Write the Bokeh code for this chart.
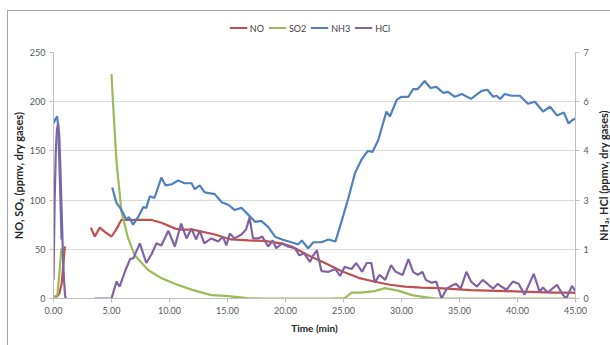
import math
from bokeh.plotting import figure
from bokeh.layouts import column, row
from bokeh.models import Range1d, LinearAxis, FixedTicker, PrintfTickFormatter, Legend, LegendItem
from bokeh.embed import file_html
from bokeh.resources import INLINE

nan = float("nan")

# ---- data (time in min; NO/SO2 on left axis, NH3/HCl on right axis, ppmv dry gases) ----
no_time = [0, 0.3, 0.5, 0.7, 0.85, 0.98, nan,
           3.22, 3.56, 3.99, 4.5, 5.0, 5.4, 5.86, 6.5, 7.5, 8.4, 9.3, 10.5, 11.0, 12.0, 13.9, 15.3,
           16.8, 18.2, 19.6, 20.5, 21.95, 23.4, 24.8, 26.3, 27.7, 29.0, 30.3, 31.7, 33.2, 34.6,
           36.0, 37.5, 38.9, 40.3, 41.8, 43.2, 44.65, 45.0]
no_ppm = [2, 2, 5, 15, 35, 53, nan,
          72, 63, 72, 67, 63, 70, 80, 80, 80, 80, 77, 71, 70, 70, 65, 60,
          59, 58.5, 56, 53, 44, 36, 28, 21, 17, 14, 12, 11, 10.5, 9.5,
          8.5, 8, 7.5, 7, 6.5, 6, 6, 5.5]

so2_time = [0, 0.2, 0.35, 0.5, 0.69, nan,
            5.0, 5.2, 5.43, 5.86, 6.44, 7.0, 7.6, 8.16, 9.3, 10.46, 11.9, 12.5, 13.6, 14.8, 15.9,
            16.7, 18, 20, 22, 24, 25.1, 25.7, 26.5, 27.7, 28.56, 29.7, 30.9, 32.0, 33.0, 35, 40, 45]
so2_ppm = [1, 1, 5, 25, 51, nan,
           228, 185, 139, 88, 61, 44, 36, 29, 20.7, 15, 9, 7, 3.4, 2.7, 1.4,
           0.4, 0, 0, 0, 0, 0.5, 6, 6, 7.5, 10.5, 8, 3.4, 1.4, 0, 0, 0, 0]

nh3_time = [0, 0.15, 0.32, 0.4, 0.5, 0.6, 0.69, nan,
            5.06, 5.43, 5.86, 6.29, 6.5, 6.87, 7.3, 7.73, 8.0, 8.3, 8.7, 9.3, 9.65, 10.2, 10.75,
            11.3, 11.9, 12.18, 12.6, 13.04, 13.9, 14.5, 15.1, 15.6, 16.2, 16.8, 17.4, 17.9, 18.5,
            19.1, 19.7, 20.5, 21.1, 21.4, 21.95, 22.4, 23.1, 23.7, 24.3, 24.8, 25.4, 26.0, 26.55,
            27.1, 27.5, 28.0, 28.7, 29.0, 29.6, 30.0, 30.6, 31.0, 31.4, 32.0, 32.5, 33.0, 33.6,
            34.0, 34.6, 35.2, 36.0, 36.9, 37.4, 37.9, 38.2, 38.5, 38.9, 39.5, 40.2, 40.9, 41.5,
            42.2, 42.8, 43.4, 44.0, 44.4, 44.7, 45.0]
nh3_ppm = [4.98, 5.10, 5.18, 4.90, 3.92, 2.80, 1.68, nan,
           3.16, 2.72, 2.52, 2.24, 2.32, 2.10, 2.32, 2.60, 2.58, 2.91, 2.86, 3.44, 3.22, 3.25, 3.36,
           3.28, 3.28, 3.11, 3.22, 3.02, 2.97, 2.74, 2.66, 2.52, 2.58, 2.38, 2.18, 2.21, 2.04,
           1.76, 1.68, 1.60, 1.54, 1.65, 1.43, 1.60, 1.60, 1.68, 1.62, 2.16, 2.83, 3.58, 3.95,
           4.20, 4.17, 4.51, 5.32, 5.18, 5.66, 5.74, 5.74, 5.96, 5.96, 6.19, 5.99, 6.02, 5.85,
           5.88, 5.74, 5.82, 5.68, 5.91, 5.94, 5.74, 5.77, 5.68, 5.82, 5.77, 5.77, 5.54, 5.60,
           5.32, 5.46, 5.21, 5.29, 4.98, 5.07, 5.12]

hcl_time = [0, 0.1, 0.2, 0.3, 0.4, 0.5, 0.6, 0.7, 0.8, 0.9, 1.0, 1.06, nan,
            3.56, 5.0, 5.43, 5.7, 6.15, 6.6, 6.9, 7.44, 8.0, 8.45, 8.88, 9.3, 9.9, 10.46, 11.0,
            11.47, 11.9, 12.3, 12.6, 13.0, 13.6, 14.2, 14.6, 14.9, 15.2, 15.6, 16.2, 16.6, 16.9,
            17.2, 17.6, 18.0, 18.5, 18.9, 19.2, 19.7, 20.2, 20.8, 21.2, 21.6, 22.1, 22.4, 22.7,
            23.1, 23.7, 24.3, 24.7, 25.1, 25.7, 26.1, 26.6, 27.0, 27.4, 27.7, 28.1, 28.6, 29.1,
            29.5, 30.1, 30.6, 31.0, 31.4, 31.8, 32.1, 32.6, 33.0, 33.45, 33.9, 34.3, 34.7, 35.1,
            35.6, 36.0, 36.5, 37.0, 37.4, 37.9, 38.3, 38.6, 39.05, 39.6, 40.1, 40.6, 41.4, 41.9,
            42.2, 42.6, 43.4, 43.9, 44.2, 44.7, 45.0]
hcl_ppm = [0.53, 2.80, 4.20, 4.82, 4.98, 4.62, 3.64, 2.52, 1.40, 0.56, 0.08, 0.00, nan,
           0.00, 0.00, 0.48, 0.34, 0.76, 1.12, 1.15, 1.57, 1.01, 1.26, 1.57, 1.51, 1.93, 1.48, 2.13,
           1.71, 1.99, 1.68, 1.93, 1.57, 1.71, 1.62, 1.76, 1.51, 1.85, 1.71, 1.82, 1.96, 2.30,
           1.71, 1.71, 1.76, 1.48, 1.65, 1.43, 1.57, 1.48, 1.43, 1.23, 1.29, 1.04, 1.23, 1.37,
           0.78, 0.76, 0.84, 0.64, 0.90, 0.84, 1.01, 0.76, 1.01, 1.01, 0.45, 0.67, 0.53, 0.95,
           0.76, 0.67, 1.12, 0.76, 0.67, 0.76, 0.53, 0.45, 0.48, 0.00, 0.28, 0.36, 0.42, 0.28,
           0.76, 0.48, 0.34, 0.53, 0.42, 0.28, 0.42, 0.34, 0.25, 0.48, 0.42, 0.11, 0.70, 0.20,
           0.31, 0.17, 0.39, 0.11, 0.00, 0.36, 0.20]

x_ticks = [0, 5, 10, 15, 20, 25, 30, 35, 40, 45]
left_ticks = [0, 50, 100, 150, 200, 250]
right_tick_values = [0, 1.4, 2.8, 4.2, 5.6, 7]
right_tick_labels = ["0", "1", "3", "4", "6", "7"]

series_names = ["NO", "SO2", "NH3", "HCl"]
series_colors = ["#C0504D", "#9BBB59", "#4F81BD", "#8064A2"]

left_title = "NO, SO\u2082 (ppmv, dry gases)"
right_title = "NH\u2083, HCl (ppmv, dry gases)"
x_title = "Time (min)"

FONT = "Lato"
TICK_COLOR = "#595959"
AXIS_LINE = "#BFBFBF"
LW = 2.2

# ---------------- main chart ----------------
p = figure(width=585, height=302, output_backend="svg", toolbar_location=None,
           x_range=Range1d(0, 45), y_range=Range1d(0, 250),
           min_border_left=45, min_border_right=18, min_border_top=8, min_border_bottom=48,
           background_fill_color="white", border_fill_color="white")
p.outline_line_color = None
p.extra_y_ranges = {"right": Range1d(0, 7)}

p.xgrid.grid_line_color = None
p.ygrid.grid_line_color = "#D9D9D9"
p.ygrid.grid_line_width = 1
p.ygrid.ticker = FixedTicker(ticks=left_ticks)

def style_axis(ax):
    ax.axis_line_color = AXIS_LINE
    ax.major_tick_line_color = AXIS_LINE
    ax.major_tick_out = 4
    ax.major_tick_in = 0
    ax.minor_tick_line_color = None
    ax.major_label_text_font = FONT
    ax.major_label_text_font_size = "9px"
    ax.major_label_text_color = TICK_COLOR
    ax.axis_label_text_font = FONT
    ax.axis_label_text_font_size = "11px"
    ax.axis_label_text_font_style = "bold"
    ax.axis_label_text_color = "#262626"

xa = p.xaxis[0]
style_axis(xa)
xa.ticker = FixedTicker(ticks=x_ticks)
xa.formatter = PrintfTickFormatter(format="%.2f")
xa.axis_label = x_title
xa.major_label_standoff = 4
xa.axis_label_standoff = 5
xa.axis_label_text_font_size = "10px"

ya = p.yaxis[0]
style_axis(ya)
ya.ticker = FixedTicker(ticks=left_ticks)
ya.axis_label = left_title
ya.major_label_standoff = 4
ya.axis_label_standoff = 2

ra = LinearAxis(y_range_name="right", ticker=FixedTicker(ticks=right_tick_values),
                major_label_overrides={v: l for v, l in zip(right_tick_values, right_tick_labels)})
style_axis(ra)
ra.major_label_standoff = 4
p.add_layout(ra, "right")

p.line(no_time, no_ppm, line_color=series_colors[0], line_width=LW)
p.line(so2_time, so2_ppm, line_color=series_colors[1], line_width=LW)
p.line(nh3_time, nh3_ppm, line_color=series_colors[2], line_width=LW, y_range_name="right")
p.line(hcl_time, hcl_ppm, line_color=series_colors[3], line_width=LW, y_range_name="right")

# ---------------- right-hand title strip (reads bottom-to-top like the reference) ----------------
rf = figure(width=18, height=302, output_backend="svg", toolbar_location=None,
            x_range=Range1d(0, 1), y_range=Range1d(0, 1), x_axis_type=None,
            min_border_left=0, min_border_right=0, min_border_top=8, min_border_bottom=48,
            background_fill_color="white", border_fill_color="white")
rf.outline_line_color = None
rf.grid.visible = False
rax = rf.yaxis[0]
rax.ticker = FixedTicker(ticks=[])
rax.axis_line_color = None
rax.major_tick_line_color = None
rax.minor_tick_line_color = None
rax.major_label_standoff = 0
rax.major_tick_out = 0
rax.axis_label = right_title
rax.axis_label_standoff = 0
rax.axis_label_text_font = FONT
rax.axis_label_text_font_size = "11px"
rax.axis_label_text_font_style = "bold"
rax.axis_label_text_color = "#262626"

# ---------------- legend strip (swatch renderers lie outside the visible range) ----------------
lg = figure(width=603, height=33, output_backend="svg", toolbar_location=None,
            x_range=Range1d(0, 1), y_range=Range1d(0, 1), x_axis_type=None, y_axis_type=None,
            min_border=0, background_fill_color="white", border_fill_color="white")
lg.outline_line_color = None
lg.grid.visible = False
legend_renderers = [lg.line([-2, -1], [-2, -1], line_color=c, line_width=LW) for c in series_colors]
legend = Legend(items=[LegendItem(label=n, renderers=[r]) for n, r in zip(series_names, legend_renderers)],
                orientation="horizontal", location="center",
                label_text_font=FONT, label_text_font_size="9px", label_text_color="#404040",
                glyph_width=18, glyph_height=10, label_standoff=3, spacing=4, label_width=10,
                border_line_color=None, background_fill_alpha=0, padding=0, margin=0)
lg.add_layout(legend, "center")

layout = column(lg, row(p, rf, spacing=0), spacing=0)
layout.margin = (10, 0, 0, 7)
layout.styles = {"border-top": "1px solid #A6A6A6", "border-left": "1px solid #A6A6A6"}

open("out.html", "w").write(file_html(layout, INLINE))
